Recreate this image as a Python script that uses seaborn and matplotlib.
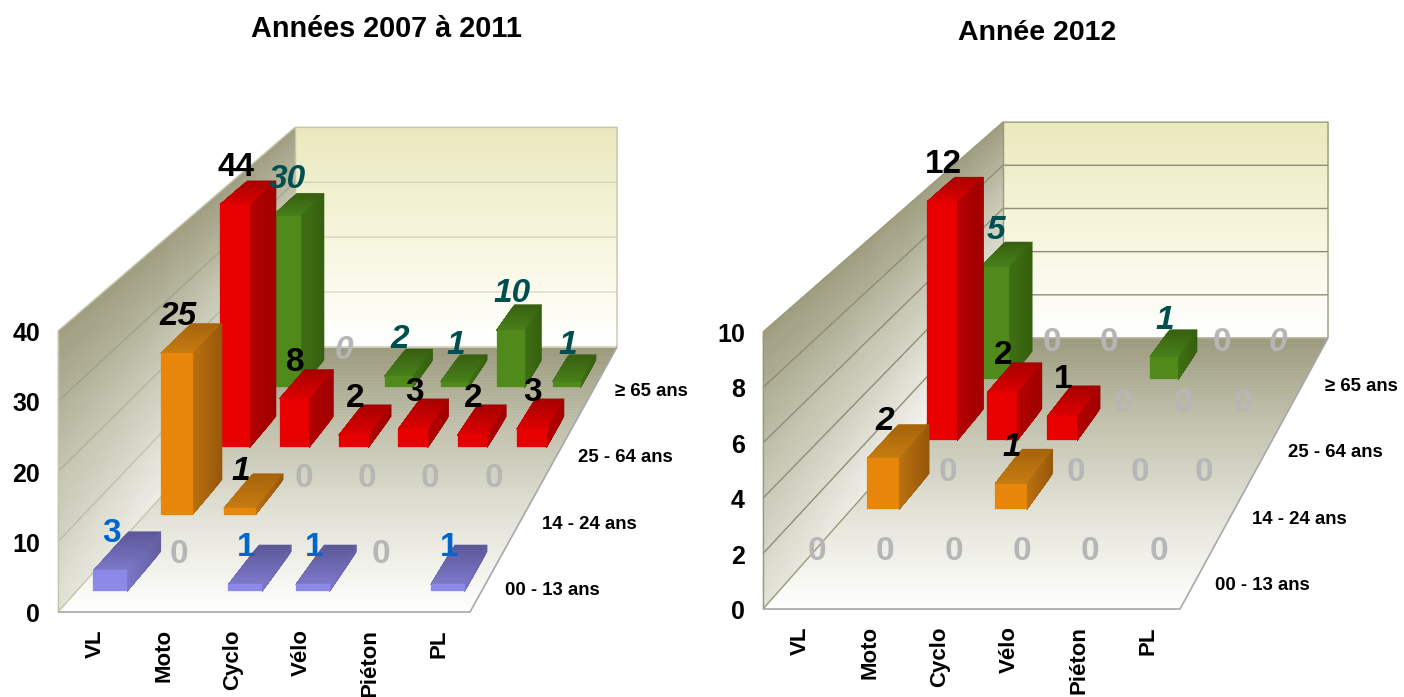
import numpy as np
import seaborn as sns
import matplotlib
matplotlib.use("Agg")
import matplotlib.pyplot as plt
from mpl_toolkits.mplot3d import proj3d
from mpl_toolkits.mplot3d.art3d import Line3DCollection

W, H = 1404, 697

categories = ["VL", "Moto", "Cyclo", "Vélo", "Piéton", "PL"]
ages = ["00 - 13 ans", "14 - 24 ans", "25 - 64 ans", "≥ 65 ans"]

# values, one list per age band
v2011_00_13 = [3, 0, 1, 1, 0, 1]
v2011_14_24 = [25, 1, 0, 0, 0, 0]
v2011_25_64 = [44, 8, 2, 3, 2, 3]
v2011_65 = [30, 0, 2, 1, 10, 1]

v2012_00_13 = [0, 0, 0, 0, 0, 0]
v2012_14_24 = [2, 0, 1, 0, 0, 0]
v2012_25_64 = [12, 2, 1, 0, 0, 0]
v2012_65 = [5, 0, 0, 1, 0, 0]

ticks_2011 = [0, 10, 20, 30, 40]
ticks_2012 = [0, 2, 4, 6, 8, 10]

sns.set_theme(style="white")
plt.rcParams["font.family"] = ["Liberation Sans", "DejaVu Sans"]

# front, side front, side back, top front, top back
bar_colors = [
    ["#8D89E8", "#7B77C8", "#625E9E", "#7C78C8", "#5C5898"],
    ["#E8860C", "#B87010", "#98580A", "#C47C10", "#A8640C"],
    ["#E80000", "#B40000", "#A00000", "#DC0000", "#A80000"],
    ["#4F8A1A", "#3F7014", "#36600E", "#47801A", "#38600F"],
]
label_colors = ["#0066CC", "black", "black", "#004F50"]
ZERO_GREY = "#B6B6B6"
CLEAR = (0, 0, 0, 0)
SLICES = 16


def make_axes(x0, y0, wf, hf, xb, yb, wb, wmax):
    # square axes overflowing the figure, its 2D limits are figure pixels
    ax = plt.gcf().add_axes([0, -(W - H) / 2 / H, 1, W / H], projection="3d")
    ax.set_xticks([])
    ax.set_yticks([])
    ax.set_zticks([])
    ax.set_axis_off()
    ax.patch.set_visible(False)
    ax.computed_zorder = False
    ax.viewLim.intervalx = (0, W)
    ax.viewLim.intervaly = (-(W - H) / 2, H + (W - H) / 2)
    g = wf / wb - 1
    bx = xb * (1 + g) - x0
    by = (H - yb) * (1 + g) - (H - y0)
    nc, nr = len(categories), len(ages)
    M = np.array([
        [wf / nc, bx / nr, 0, x0],
        [0, by / nr, hf / wmax, H - y0],
        [0, 1 / nr, 0, 0],
        [0, g / nr, 0, 1],
    ])
    ax.get_proj = lambda: M
    return ax


def put_text(ax, u, v, w, s, dx=0, dy=0, **kwargs):
    # project by hand so the text lives in plain 2D pixel coordinates
    x, y, _ = proj3d.proj_transform(u, v, w, ax.get_proj())
    ax.text2D(x + dx, y + dy, s, transform=ax.transData, fontweight="bold", zorder=5000, **kwargs)


def add_lines(ax, segments, color, lw):
    ax.add_collection3d(Line3DCollection(segments, colors=color, linewidths=lw, zorder=2), autolim=False)


def draw_walls(ax, wmax, ticks, line_color, edge_color):
    nc, nr = len(categories), len(ages)
    n = 80
    t = np.linspace(0, 1, n)

    floor_pal = np.array(sns.blend_palette(["#FEFEFC", "#DEDED2", "#BDBDA8", "#9A997C"], n))
    U, V = np.meshgrid([0, nc], t * nr)
    ax.plot_surface(U, V, np.zeros_like(U), facecolors=floor_pal[:, None, :].repeat(2, 1),
                    rstride=1, cstride=1, shade=False, linewidth=0.4, zorder=1)

    back_pal = np.array(sns.blend_palette(["#FFFFFF", "#F6F5DC", "#E9E8BC"], n))
    U, Z = np.meshgrid([0, nc], t * wmax)
    ax.plot_surface(U, np.full_like(U, nr), Z, facecolors=back_pal[:, None, :].repeat(2, 1),
                    rstride=1, cstride=1, shade=False, linewidth=0.4, zorder=1)

    # left wall: dark along its top, lighter towards the floor and the back
    side_pal = np.array(sns.blend_palette(["#FFFFFF", "#E4E4DA", "#C4C4B0", "#9D9C7E"], 101))
    k = np.linspace(0, 1, 40)
    V, Z = np.meshgrid(k * nr, t * wmax)
    shade = Z / wmax + 0.35 * (1 - V / nr) * (1 - Z / wmax)
    ax.plot_surface(np.zeros_like(V), V, Z, facecolors=side_pal[(shade * 100).astype(int)],
                    rstride=1, cstride=1, shade=False, linewidth=0.4, zorder=1)

    grid = []
    for tick in ticks[1:-1]:
        grid.append([(0, 0, tick), (0, nr, tick), (nc, nr, tick)])
    add_lines(ax, grid, line_color, 1)
    add_lines(ax, [[(0, 0, wmax), (0, nr, wmax), (nc, nr, wmax), (nc, nr, 0)],
                   [(0, nr, 0), (0, nr, wmax)],
                   [(0, 0, 0), (0, 0, wmax)],
                   [(0, 0, 0), (0, nr, 0), (nc, nr, 0)]], edge_color, 1)
    add_lines(ax, [[(0, 0, 0), (nc, 0, 0), (nc, nr, 0)]], "#A8A8A8", 1.2)


def draw_bars(ax, rows, wmax, italic_zero):
    nc = len(categories)
    order = 10
    for r in range(len(ages) - 1, -1, -1):
        front, side0, side1, top0, top1 = bar_colors[r]
        side_pal = sns.blend_palette([side0, side1], SLICES)
        top_pal = sns.blend_palette([top0, top1], SLICES)
        for c in range(nc):
            value = rows[r][c]
            height = min(value, wmax)
            # each pass is shorter in depth, so the depth gradient has no seams
            for s in range(SLICES - 1, -1, -1):
                if height == 0:
                    break
                # bottom, top, front, back, left, right
                colors = [CLEAR, top_pal[s], front if s == 0 else CLEAR, CLEAR, CLEAR, side_pal[s]]
                ax.bar3d(c + 0.25, r + 0.25, 0, 0.5, 0.5 * (s + 1) / SLICES, height,
                         color=colors, edgecolors=colors, linewidths=0.2, shade=False, zorder=order)
                order += 1
            if value == 0:
                color, style = ZERO_GREY, "italic" if (r, c) in italic_zero else "normal"
            else:
                color, style = label_colors[r], "italic" if r in (1, 3) else "normal"
            put_text(ax, c + 0.5, r + 0.25, height, str(value), dx=1, dy=36.5, color=color,
                     style=style, fontsize=24, ha="center", va="center")


def draw_axis_text(ax, ticks, age_x, age_y):
    for tick in ticks:
        put_text(ax, -0.26, 0, tick, str(tick), dy=-3, fontsize=18, ha="right", va="center",
                 color="black")
    for c, name in enumerate(categories):
        put_text(ax, c + 0.5, 0, 0, name, dx=3, dy=-17, rotation=90, fontsize=16, ha="center",
                 va="top", color="black")
    for r, name in enumerate(ages):
        ax.text2D(age_x + r * 36.7, H - (age_y + 1.5 - r * 66.3), name, transform=ax.transData,
                  fontweight="bold", fontsize=13.4, ha="left", va="center", color="black")


fig = plt.figure(figsize=(W / 100, H / 100), dpi=100, facecolor="white")

ax1 = make_axes(58, 612, 412, 281, 295, 347, 322, 40)
draw_walls(ax1, 40, ticks_2011, (0.35, 0.35, 0.28, 0.2), "#C6C6AC")
draw_bars(ax1, [v2011_00_13, v2011_14_24, v2011_25_64, v2011_65], 40, {(3, 1)})
draw_axis_text(ax1, ticks_2011, 505, 589)

ax2 = make_axes(763, 609, 417, 277, 1003, 338, 325, 10)
draw_walls(ax2, 10, ticks_2012, "#8E8E78", "#9A9A7A")
draw_bars(ax2, [v2012_00_13, v2012_14_24, v2012_25_64, v2012_65], 10, {(3, 5)})
draw_axis_text(ax2, ticks_2012, 1215, 584)

fig.text(386 / W, 1 - 29 / H, "Années 2007 à 2011", fontweight="bold", fontsize=20.8,
         ha="center", va="center", color="black")
fig.text(1037 / W, 1 - 33 / H, "Année 2012", fontweight="bold", fontsize=20.5,
         ha="center", va="center", color="black")

fig.savefig("out.png", dpi=100)
